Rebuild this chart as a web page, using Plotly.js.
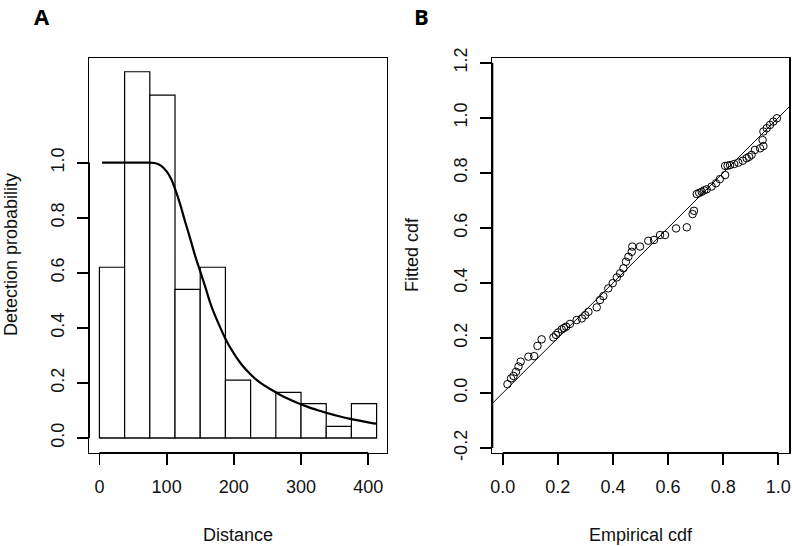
<!DOCTYPE html>
<html><head><meta charset="utf-8">
<script src="https://cdn.plot.ly/plotly-3.0.1.min.js"></script>
<style>html,body{margin:0;padding:0;background:#fff}</style>
</head><body><div id="chart" style="width:792px;height:546px"></div>
<script>
// Panel A: histogram of distances (scaled) and detection function
const binEdges   = [0, 37.5, 75, 112.5, 150, 187.5, 225, 262.5, 300, 337.5, 375, 412.5];
const binHeights = [0.62, 1.33, 1.245, 0.54, 0.62, 0.21, 0, 0.166, 0.125, 0.042, 0.125];
const curveDistance = [4, 40, 75, 85, 92, 100, 107, 114, 120, 127, 135, 142, 150, 158, 165, 172, 180, 188, 198, 209, 220, 232, 244, 256, 268, 280, 295, 310, 325, 340, 355, 370, 385, 400, 412];
const curveProb     = [1.0, 1.0, 1.0, 0.997, 0.988, 0.968, 0.94, 0.895, 0.85, 0.79, 0.725, 0.665, 0.605, 0.545, 0.49, 0.445, 0.40, 0.358, 0.315, 0.275, 0.243, 0.215, 0.193, 0.175, 0.158, 0.143, 0.127, 0.113, 0.101, 0.09, 0.08, 0.071, 0.064, 0.057, 0.052];
const distTicks = [0, 100, 200, 300, 400];
const probTicks = [0, 0.2, 0.4, 0.6, 0.8, 1.0];

// Panel B: P-P plot
const empiricalCdf = [0.017,0.030,0.039,0.048,0.057,0.065,0.093,0.114,0.126,0.141,0.184,0.193,0.201,0.214,0.222,0.230,0.244,0.268,0.287,0.299,0.311,0.341,0.353,0.365,0.383,0.399,0.414,0.426,0.438,0.447,0.456,0.468,0.470,0.498,0.528,0.549,0.571,0.589,0.629,0.668,0.689,0.694,0.704,0.713,0.722,0.731,0.740,0.758,0.774,0.788,0.807,0.807,0.816,0.825,0.840,0.855,0.871,0.885,0.894,0.903,0.915,0.934,0.946,0.943,0.946,0.958,0.970,0.982,0.995];
const fittedCdf    = [0.032,0.053,0.062,0.077,0.096,0.114,0.132,0.134,0.171,0.195,0.202,0.211,0.220,0.231,0.236,0.241,0.251,0.265,0.271,0.283,0.295,0.311,0.338,0.352,0.380,0.399,0.420,0.435,0.453,0.477,0.495,0.513,0.532,0.532,0.553,0.556,0.574,0.574,0.598,0.602,0.650,0.662,0.723,0.727,0.731,0.736,0.740,0.750,0.762,0.777,0.792,0.825,0.826,0.828,0.832,0.837,0.844,0.853,0.858,0.865,0.883,0.889,0.897,0.919,0.950,0.962,0.974,0.986,0.998];
const ecdfTicks = [0, 0.2, 0.4, 0.6, 0.8, 1.0];
const fcdfTicks = [-0.2, 0, 0.2, 0.4, 0.6, 0.8, 1.0, 1.2];

const xRangeA = [-15.5, 427.5], yRangeA = [-0.0545, 1.381];
const xRangeB = [-0.038, 1.040], yRangeB = [-0.218, 1.216];

const mids = binHeights.map((h, i) => (binEdges[i] + binEdges[i+1]) / 2);
const widths = binHeights.map((h, i) => binEdges[i+1] - binEdges[i]);

const FONT = 'Liberation Sans, Arial, sans-serif';
const traces = [
  {type: 'bar', x: mids, y: binHeights, width: widths, xaxis: 'x', yaxis: 'y',
   marker: {color: '#ffffff', line: {color: '#000', width: 1.2}}, hoverinfo: 'skip'},
  {type: 'scatter', mode: 'lines', x: [binEdges[0], binEdges[binEdges.length-1]], y: [0, 0],
   xaxis: 'x', yaxis: 'y', line: {color: '#000', width: 1.2}, hoverinfo: 'skip'},
  {type: 'scatter', mode: 'lines', x: curveDistance, y: curveProb, xaxis: 'x', yaxis: 'y',
   line: {color: '#000', width: 2.2, shape: 'spline', smoothing: 0.6}},
  {type: 'scatter', mode: 'lines', x: xRangeB, y: xRangeB, xaxis: 'x2', yaxis: 'y2',
   line: {color: '#000', width: 1}},
  {type: 'scatter', mode: 'markers', x: empiricalCdf, y: fittedCdf, xaxis: 'x2', yaxis: 'y2',
   marker: {symbol: 'circle-open', size: 7.5, color: '#000', line: {width: 1, color: '#000'}}}
];

function ax(domain, range, ticks, angle, anchor) {
  return {
    domain: domain, range: range, anchor: anchor,
    tickmode: 'array', tickvals: ticks, ticktext: ticks.map(v => v.toFixed(1)),
    ticks: 'outside', ticklen: 11, tickwidth: 1.8, tickcolor: '#000',
    tickangle: angle,
    showline: true, mirror: true, linecolor: '#000', linewidth: 1.2,
    showgrid: false, zeroline: false, fixedrange: true,
    ticklabelstandoff: 6,
    tickfont: {family: FONT, size: 18, color: '#111'}
  };
}
const xA = ax([89/792, 386.7/792], xRangeA, distTicks, 0, 'y');
xA.ticktext = distTicks.map(String);
const yA = ax([93/546, 488.3/546], yRangeA, probTicks, -90, 'x');
const xB = ax([492.3/792, 789.3/792], xRangeB, ecdfTicks, 0, 'y2');
const yB = ax([93/546, 487.7/546], yRangeB, fcdfTicks, -90, 'x2');

function axisSeg(xref, yref, t, vertical) {
  return vertical
    ? {type: 'line', xref: xref + ' domain', yref: yref, x0: 0, x1: 0, y0: t[0], y1: t[t.length-1], line: {color: '#000', width: 2}}
    : {type: 'line', xref: xref, yref: yref + ' domain', x0: t[0], x1: t[t.length-1], y0: 0, y1: 0, line: {color: '#000', width: 2}};
}

const ann = (text, x, y, extra) => Object.assign({text: text, x: x, y: y, xref: 'paper', yref: 'paper',
  showarrow: false, xanchor: 'center', yanchor: 'middle', font: {family: FONT, size: 18, color: '#111'}}, extra || {});
const panelFont = {family: 'Open Sans, sans-serif', size: 22, color: '#000'};

const layout = {
  width: 792, height: 546, margin: {l: 0, r: 0, t: 0, b: 0},
  paper_bgcolor: '#fff', plot_bgcolor: '#fff', showlegend: false,
  xaxis: xA, yaxis: yA, xaxis2: xB, yaxis2: yB,
  shapes: [axisSeg('x', 'y', distTicks, false), axisSeg('x', 'y', probTicks, true),
           axisSeg('x2', 'y2', ecdfTicks, false), axisSeg('x2', 'y2', fcdfTicks, true)],
  annotations: [
    ann('Distance', 238/792, 1 - 535/546),
    ann('Empirical cdf', 641/792, 1 - 535/546),
    ann('Detection probability', 11/792, 1 - 255/546, {textangle: -90}),
    ann('Fitted cdf', 412/792, 1 - 255/546, {textangle: -90}),
    ann('<b>A</b>', 42/792, 1, {yanchor: 'top', borderpad: 0, font: panelFont}),
    ann('<b>B</b>', 421/792, 1, {yanchor: 'top', borderpad: 0, font: panelFont})
  ]
};
Plotly.newPlot('chart', traces, layout, {staticPlot: true, displayModeBar: false});
</script>
</body></html>
